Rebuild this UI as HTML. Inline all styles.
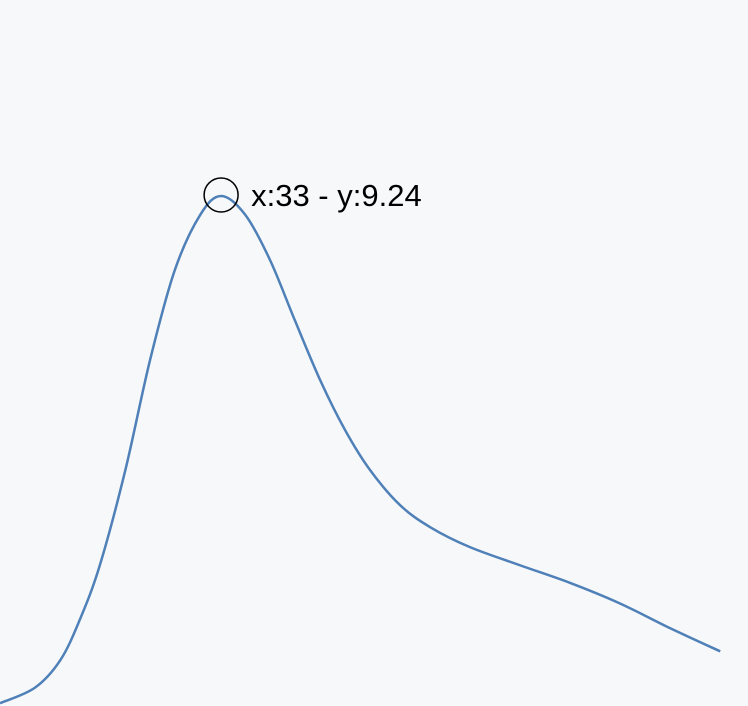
<!DOCTYPE html>
<html><head><meta charset="utf-8"><style>
html,body{margin:0;padding:0;background:#f7f8fa;}
svg{display:block;}
</style></head><body>
<svg id="chart" width="748" height="706">
<rect width="748" height="706" fill="#f7f8fa"/>
<path id="line" fill="none" stroke="#4f81b8" stroke-width="2.5"/>
<circle id="hover" r="17" fill="none" stroke="#000" stroke-width="1.5"/>
<text id="label" font-family="Liberation Sans, sans-serif" font-size="31" fill="#000"></text>
</svg>
<script>
const xValues=[0,5.2,9,11.9,14.9,18.7,22.4,26.1,29.9,33,36.6,40.3,44,47.8,51.5,55.2,59.7,64.2,70.1,77.6,85.1,92.5,100,107.5];
const yValues=[0.05,0.33,0.83,1.56,2.55,4.27,6.27,7.9,8.9,9.24,8.9,8.08,6.99,5.9,5.0,4.28,3.64,3.24,2.88,2.55,2.23,1.86,1.41,0.99];
const hoverX=33, hoverY=9.24;
function sx(x){return x*6.7;}
function sy(y){return 706-y*55.2;}
const pts=xValues.map((x,i)=>[sx(x),sy(yValues[i])]);
let d='M'+pts[0][0]+','+pts[0][1];
for(let i=0;i<pts.length-1;i++){
  const p0=pts[Math.max(0,i-1)],p1=pts[i],p2=pts[i+1],p3=pts[Math.min(pts.length-1,i+2)];
  const c1=[p1[0]+(p2[0]-p0[0])/6,p1[1]+(p2[1]-p0[1])/6];
  const c2=[p2[0]-(p3[0]-p1[0])/6,p2[1]-(p3[1]-p1[1])/6];
  d+=' C'+c1+' '+c2+' '+p2;
}
document.getElementById('line').setAttribute('d',d);
const c=document.getElementById('hover');
c.setAttribute('cx',sx(hoverX));c.setAttribute('cy',sy(hoverY)-1);
const t=document.getElementById('label');
t.setAttribute('x',sx(hoverX)+30);t.setAttribute('y',sy(hoverY)+10);
t.textContent='x:'+hoverX+' - y:'+hoverY;
</script>
</body></html>
